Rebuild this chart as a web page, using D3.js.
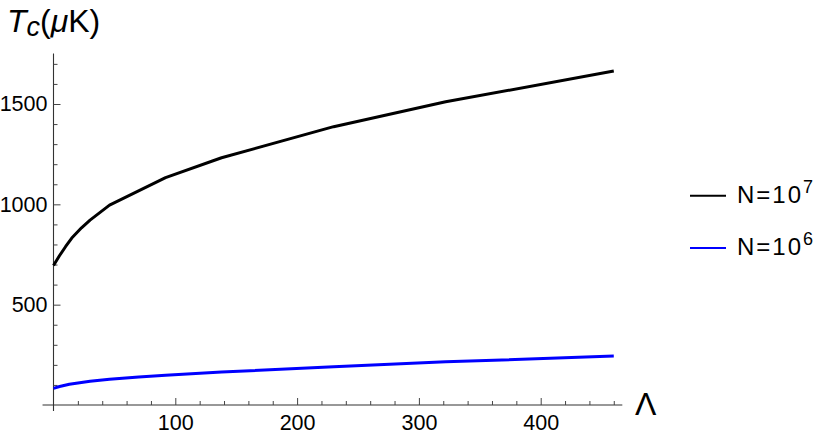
<!DOCTYPE html>
<html>
<head>
<meta charset="utf-8">
<script src="https://cdn.jsdelivr.net/npm/d3@7"></script>
<style>
  html, body { margin: 0; padding: 0; background: #fff; }
  svg { display: block; font-family: "Liberation Sans", Arial, sans-serif; }
</style>
</head>
<body>
<svg id="chart" width="830" height="438"></svg>
<script>
// ---- data ----
const lambdaBlack = [0, 5, 10, 15, 23, 30, 46, 92, 138, 230, 322, 460];
const tcN7        = [695, 745, 790, 832, 883, 921, 996, 1133, 1232, 1387, 1511, 1664];
const lambdaBlue  = [0, 5, 13, 30, 46, 70, 92, 138, 230, 322, 460];
const tcN6        = [83, 92, 103, 118, 128, 140, 148, 164, 190, 215, 244];
const seriesNames = ["N=10", "N=10"];
const seriesExp   = ["7", "6"];
const seriesColors = ["#000000", "#0000ff"];
const xMajorTicks = [100, 200, 300, 400];
const xMinorTicks = d3.range(20, 461, 20).filter(v => v % 100 !== 0);
const yMajorTicks = [500, 1000, 1500];
const yMinorTicks = d3.range(100, 1701, 100).filter(v => v % 500 !== 0);

// ---- scales ----
const x = d3.scaleLinear().domain([0, 400]).range([53.5, 540.7]);
const y = d3.scaleLinear().domain([0, 1500]).range([405, 104]);

const svg = d3.select("#chart");

// axis lines (extended a bit beyond the data range like Mathematica)
svg.append("line")
  .attr("x1", x(-9)).attr("x2", x(467))
  .attr("y1", y(0)).attr("y2", y(0))
  .attr("stroke", "#333").attr("stroke-width", 1.1);
svg.append("line")
  .attr("x1", x(0)).attr("x2", x(0))
  .attr("y1", y(-30)).attr("y2", y(1752))
  .attr("stroke", "#333").attr("stroke-width", 1.1);

// x axis ticks
const gxMinor = svg.append("g").attr("transform", `translate(0,${y(0)})`)
  .call(d3.axisBottom(x).tickValues(xMinorTicks).tickSizeInner(-4).tickSizeOuter(0).tickFormat(""));
const gxMajor = svg.append("g").attr("transform", `translate(0,${y(0)})`)
  .call(d3.axisBottom(x).tickValues(xMajorTicks).tickSizeInner(-7).tickSizeOuter(0).tickPadding(10).tickFormat(d3.format("d")));
// y axis ticks
const gyMinor = svg.append("g").attr("transform", `translate(${x(0)},0)`)
  .call(d3.axisLeft(y).tickValues(yMinorTicks).tickSizeInner(-4).tickSizeOuter(0).tickFormat(""));
const gyMajor = svg.append("g").attr("transform", `translate(${x(0)},0)`)
  .call(d3.axisLeft(y).tickValues(yMajorTicks).tickSizeInner(-7).tickSizeOuter(0).tickPadding(6).tickFormat(d3.format("d")));

[gxMinor, gxMajor, gyMinor, gyMajor].forEach(g => {
  g.select(".domain").remove();
  g.selectAll(".tick line").attr("stroke", "#444").attr("stroke-width", 1);
  g.selectAll("text").attr("font-size", 21.5).attr("fill", "#000")
    .attr("font-family", "'Liberation Sans', Arial, sans-serif");
});

// lines
const lineGen = d3.line().x(d => x(d[0])).y(d => y(d[1]));
svg.append("path")
  .datum(lambdaBlack.map((l, i) => [l, tcN7[i]]))
  .attr("d", lineGen).attr("fill", "none")
  .attr("stroke", seriesColors[0]).attr("stroke-width", 3).attr("stroke-linejoin", "round");
svg.append("path")
  .datum(lambdaBlue.map((l, i) => [l, tcN6[i]]))
  .attr("d", lineGen).attr("fill", "none")
  .attr("stroke", seriesColors[1]).attr("stroke-width", 3).attr("stroke-linejoin", "round");

// axis labels
const yl = svg.append("text").attr("x", 7).attr("y", 32).attr("font-size", 32).attr("fill", "#000");
yl.append("tspan").attr("font-style", "italic").text("T");
yl.append("tspan").attr("font-style", "italic").attr("font-size", 27).attr("dy", 4).text("c");
yl.append("tspan").attr("dy", -4).text("(");
yl.append("tspan").attr("font-style", "italic").text("μ");
yl.append("tspan").text("K)");

svg.append("text").attr("x", 635).attr("y", 415).attr("font-size", 32).attr("fill", "#000").text("Λ");

// legend
const legendY = [195.7, 248];
seriesNames.forEach((name, i) => {
  const g = svg.append("g").attr("transform", `translate(0,${legendY[i]})`);
  g.append("line").attr("x1", 690).attr("x2", 726).attr("y1", 0).attr("y2", 0)
    .attr("stroke", seriesColors[i]).attr("stroke-width", 2);
  const t = g.append("text").attr("x", 737).attr("y", 7).attr("font-size", 24)
    .attr("letter-spacing", 2).attr("fill", "#000");
  t.append("tspan").text(name);
  t.append("tspan").attr("font-size", 18).attr("dy", -10).attr("letter-spacing", 0).text(seriesExp[i]);
});
</script>
</body>
</html>
